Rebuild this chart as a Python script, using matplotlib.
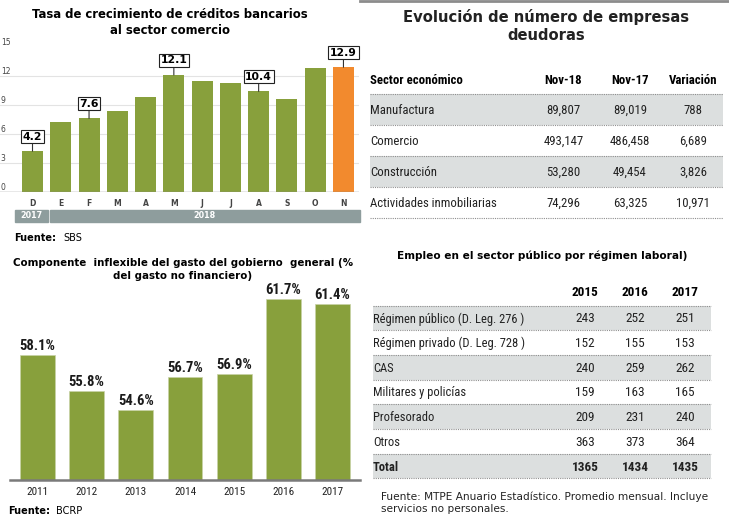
import matplotlib
matplotlib.use('Agg')
import matplotlib.pyplot as plt
from matplotlib import font_manager
from matplotlib.patches import Rectangle

# --- data -------------------------------------------------------------
months = ['D', 'E', 'F', 'M', 'A', 'M', 'J', 'J', 'A', 'S', 'O', 'N']
credit_growth = [4.2, 7.2, 7.6, 8.4, 9.8, 12.1, 11.5, 11.3, 10.4, 9.6, 12.8, 12.9]
credit_callouts = [0, 2, 5, 8, 11]
credit_ticks = [0, 3, 6, 9, 12, 15]

gasto_years = ['2011', '2012', '2013', '2014', '2015', '2016', '2017']
gasto_inflexible = [58.1, 55.8, 54.6, 56.7, 56.9, 61.7, 61.4]

sectores = ['Manufactura', 'Comercio', 'Construcción', 'Actividades inmobiliarias']
empresas_nov18 = [89807, 493147, 53280, 74296]
empresas_nov17 = [89019, 486458, 49454, 63325]
empresas_var = [788, 6689, 3826, 10971]

regimenes = ['Régimen público (D. Leg. 276 )', 'Régimen privado (D. Leg. 728 )',
             'CAS', 'Militares y policías', 'Profesorado', 'Otros']
empleo_years = ['2015', '2016', '2017']
empleo_2015 = [243, 152, 240, 159, 209, 363]
empleo_2016 = [252, 155, 259, 163, 231, 373]
empleo_2017 = [251, 153, 262, 165, 240, 364]
empleo_total = [1365, 1434, 1435]

GREEN = '#88a03c'
ORANGE = '#f28a2e'
BAND = '#dcdfdf'
W, H = 729, 518

avail = {f.name for f in font_manager.fontManager.ttflist}
NARROW = next((f for f in ['Liberation Sans Narrow', 'Roboto Condensed',
                           'Open Sans Condensed', 'Liberation Sans'] if f in avail),
              'DejaVu Sans')
plt.rcParams['font.family'] = ['DejaVu Sans']

fig = plt.figure(figsize=(W / 100, H / 100), dpi=100)
bg = fig.add_axes([0, 0, 1, 1])
bg.set_xlim(0, W)
bg.set_ylim(H, 0)
bg.axis('off')


def px_axes(x0, y0, x1, y1):
    return fig.add_axes([x0 / W, 1 - y1 / H, (x1 - x0) / W, (y1 - y0) / H])


# --- top left: credit growth -----------------------------------------
bg.text(170, 14, 'Tasa de crecimiento de créditos bancarios', ha='center', va='center',
        fontsize=8.4, fontweight='bold')
bg.text(170, 30, 'al sector comercio', ha='center', va='center',
        fontsize=8.4, fontweight='bold')

ax1 = px_axes(0, 47, 359, 191.7)
ax1.set_xlim(-1.15, 11.55)
ax1.set_ylim(0, 15)
ax1.patch.set_alpha(0)
for s in ax1.spines.values():
    s.set_visible(False)
for t in credit_ticks[1:-1]:
    ax1.axhline(t, color='#e3e3e3', lw=0.8, zorder=0)
ax1.axhline(0, color='#8a8a8a', lw=1.0, zorder=3)
colors = [GREEN] * (len(months) - 1) + [ORANGE]
ax1.bar(range(len(months)), credit_growth, width=0.74, color=colors, zorder=2)
for t in credit_ticks:
    ax1.text(-1.12, t, str(t), va='bottom', ha='left', fontsize=5.5, color='#444444')
ax1.set_yticks([])
ax1.set_xticks(range(len(months)), months)
ax1.tick_params(axis='x', length=0, pad=5, labelsize=5.5, labelcolor='#444444')
for lab in ax1.get_xticklabels():
    lab.set_fontweight('bold')
for i in credit_callouts:
    v = credit_growth[i]
    ax1.annotate(f'{v}', xy=(i, v), xytext=(0, 10.5), textcoords='offset points',
                 ha='center', va='center', fontsize=7.8, fontweight='bold',
                 bbox=dict(boxstyle='square,pad=0.15', fc='white', ec='#222222', lw=0.8),
                 arrowprops=dict(arrowstyle='-', color='#333333', lw=0.8,
                                 shrinkA=0, shrinkB=0),
                 annotation_clip=False, zorder=5)

bg.add_patch(Rectangle((15, 210), 33, 11.5, color='#8e9d9d'))
bg.add_patch(Rectangle((50, 210), 310, 11.5, color='#8e9d9d'))
bg.text(31.5, 216, '2017', ha='center', va='center', fontsize=5.8,
        fontweight='bold', color='white')
bg.text(205, 216, '2018', ha='center', va='center', fontsize=5.8,
        fontweight='bold', color='white')
bg.text(14, 238, 'Fuente:', ha='left', va='center', fontsize=7, fontweight='bold')
bg.text(63, 238, 'SBS', ha='left', va='center', fontsize=7)

# --- top right: empresas deudoras table -------------------------------
bg.plot([360, W], [0.8, 0.8], color='#8c8c8c', lw=2)
bg.text(546, 17, 'Evolución de número de empresas', ha='center', va='center',
        fontsize=10.6, fontweight='bold', color='#222222')
bg.text(546, 35, 'deudoras', ha='center', va='center',
        fontsize=10.6, fontweight='bold', color='#222222')

t1_cols = [563.5, 630, 693]
t1_top, t1_h = 94, 31
bg.text(370, 81, 'Sector económico', ha='left', va='center', fontsize=9.2,
        fontweight='bold', family=NARROW)
for x, h in zip(t1_cols, ['Nov-18', 'Nov-17', 'Variación']):
    bg.text(x, 81, h, ha='center', va='center', fontsize=9.2, fontweight='bold',
            family=NARROW)
for k, name in enumerate(sectores):
    y0 = t1_top + t1_h * k
    if k % 2 == 0:
        bg.add_patch(Rectangle((370, y0), 353, t1_h, color=BAND, lw=0))
    yc = y0 + t1_h / 2 + 1
    bg.text(370, yc, name, ha='left', va='center', fontsize=9.2, family=NARROW,
            color='#222222')
    for x, vals in zip(t1_cols, [empresas_nov18, empresas_nov17, empresas_var]):
        bg.text(x, yc, f'{vals[k]:,}', ha='center', va='center', fontsize=9.2,
                family=NARROW, color='#222222')
for k in range(len(sectores) + 1):
    y = t1_top + t1_h * k
    bg.plot([370, 723], [y, y], color='#8f8f8f', lw=0.8, ls=(0, (1, 1)))

# --- bottom left: gasto inflexible ------------------------------------
bg.text(183, 263, 'Componente  inflexible del gasto del gobierno  general (%',
        ha='center', va='center', fontsize=7.4, fontweight='bold')
bg.text(183, 276, 'del gasto no financiero)', ha='center', va='center',
        fontsize=7.4, fontweight='bold')

ax3 = px_axes(10, 285, 360, 480)
ax3.set_xlim(-0.56, 6.56)
ax3.set_ylim(50.1, 50.1 + 195 / 15.59)
ax3.patch.set_alpha(0)
for s in ['top', 'left', 'right']:
    ax3.spines[s].set_visible(False)
ax3.spines['bottom'].set_color('#7a7a7a')
ax3.spines['bottom'].set_linewidth(1.8)
ax3.bar(range(len(gasto_years)), gasto_inflexible, width=0.71, color=GREEN,
        edgecolor='#c8d2a6', lw=0.5)
for i, v in enumerate(gasto_inflexible):
    ax3.annotate(f'{v}%', xy=(i, v), xytext=(0, 1.5), textcoords='offset points',
                 ha='center', va='bottom', fontsize=10.5, fontweight='bold',
                 family=NARROW, color='#1a1a1a')
ax3.set_yticks([])
ax3.set_xticks(range(len(gasto_years)), gasto_years)
ax3.tick_params(axis='x', length=0, pad=5, labelsize=8, labelcolor='#222222')
for lab in ax3.get_xticklabels():
    lab.set_family(NARROW)
bg.text(8, 511, 'Fuente:', ha='left', va='center', fontsize=7, fontweight='bold')
bg.text(56, 511, 'BCRP', ha='left', va='center', fontsize=7)

# --- bottom right: empleo table ---------------------------------------
bg.text(542, 256, 'Empleo en el sector público por régimen laboral)', ha='center',
        va='center', fontsize=7.6, fontweight='bold')
t2_cols = [585, 635, 685]
t2_top, t2_h = 305.5, 24.7
for x, h in zip(t2_cols, empleo_years):
    bg.text(x, 293, h, ha='center', va='center', fontsize=9.5, fontweight='bold',
            family=NARROW)
rows = regimenes + ['Total']
cols_vals = [empleo_2015 + [empleo_total[0]], empleo_2016 + [empleo_total[1]],
             empleo_2017 + [empleo_total[2]]]
for k, name in enumerate(rows):
    y0 = t2_top + t2_h * k
    if k % 2 == 0:
        bg.add_patch(Rectangle((373, y0), 338, t2_h, color=BAND, lw=0))
    yc = y0 + t2_h / 2 + 1
    bold = 'bold' if name == 'Total' else 'normal'
    bg.text(373, yc, name, ha='left', va='center', fontsize=9, family=NARROW,
            fontweight=bold, color='#222222')
    for x, vals in zip(t2_cols, cols_vals):
        bg.text(x, yc, str(vals[k]), ha='center', va='center', fontsize=9.5,
                family=NARROW, fontweight=bold, color='#222222')
for k in range(len(rows) + 1):
    y = t2_top + t2_h * k
    bg.plot([373, 711], [y, y], color='#8f8f8f', lw=0.8, ls=(0, (1, 1)))
bg.text(381, 497, 'Fuente: MTPE Anuario Estadístico. Promedio mensual. Incluye',
        ha='left', va='center', fontsize=7.6, color='#222222')
bg.text(381, 509, 'servicios no personales.', ha='left', va='center', fontsize=7.6,
        color='#222222')

fig.savefig('out.png', dpi=100)
